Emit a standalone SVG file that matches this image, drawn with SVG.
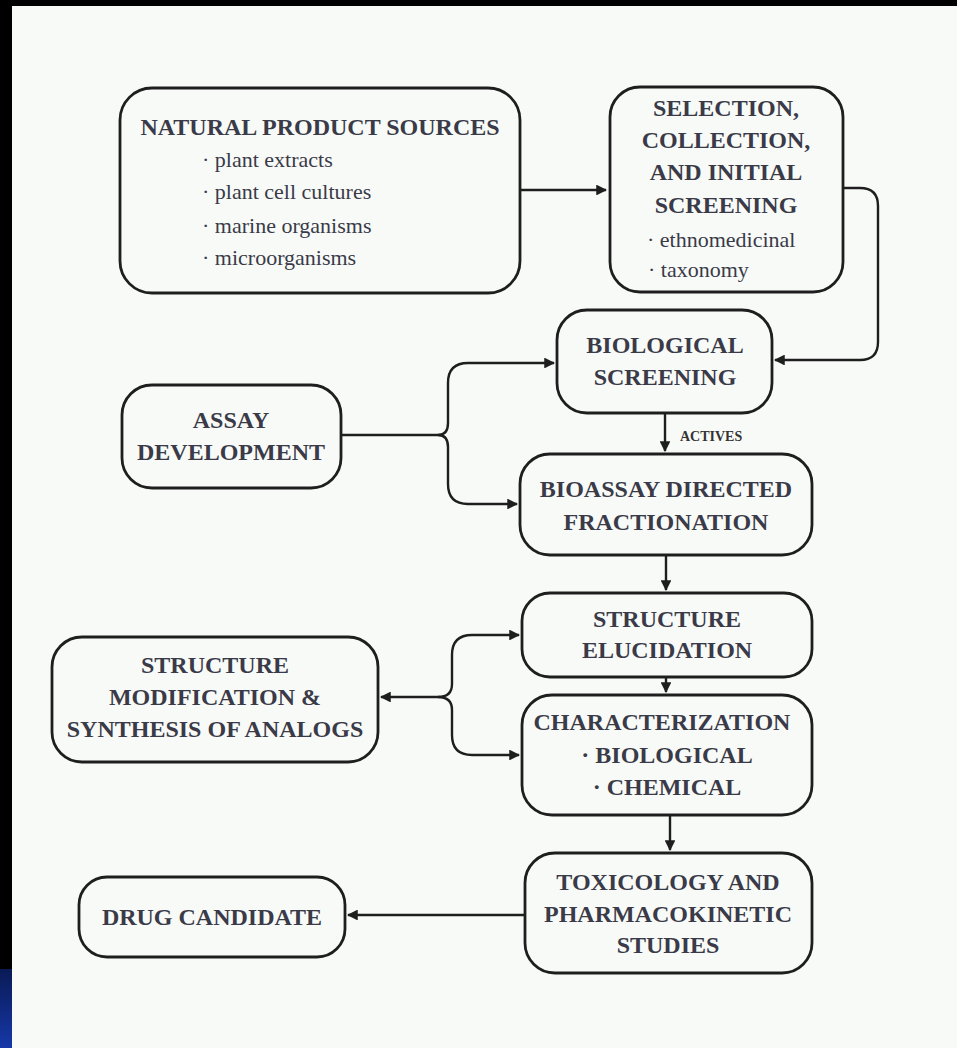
<svg xmlns="http://www.w3.org/2000/svg" width="957" height="1048" viewBox="0 0 957 1048">
<defs>
<linearGradient id="blue" x1="0" y1="0" x2="0" y2="1">
<stop offset="0" stop-color="#0a1a55"/>
<stop offset="1" stop-color="#1638a8"/>
</linearGradient>
<marker id="ah" viewBox="0 0 10 10" refX="9" refY="5" markerWidth="4.5" markerHeight="4.5" orient="auto" markerUnits="strokeWidth">
<path d="M0,0 L10,5 L0,10 z" fill="#1e1e1e"/>
</marker>
<style>
.box{fill:none;stroke:#1e1e1e;stroke-width:2.8}
.t{font-family:"Liberation Serif","Times New Roman",serif;font-weight:bold;font-size:24px;fill:#3a3a48;text-anchor:middle}
.s{font-family:"Liberation Serif","Times New Roman",serif;font-size:22px;fill:#3a3a48}
.c{fill:none;stroke:#1e1e1e;stroke-width:2.4}
.lbl{font-family:"Liberation Serif","Times New Roman",serif;font-weight:bold;font-size:14px;fill:#333}
</style>
</defs>
<rect x="0" y="0" width="957" height="1048" fill="#000"/>
<rect x="12" y="6" width="945" height="1042" fill="#f8faf8"/>
<rect x="0" y="969" width="12" height="79" fill="url(#blue)"/>

<g id="connectors">
<path class="c" d="M520,190 H606" marker-end="url(#ah)"/>
<path class="c" d="M843,188 H860 Q878,188 878,206 V342 Q878,360 860,360 H775" marker-end="url(#ah)"/>
<path class="c" d="M665,413 V451" marker-end="url(#ah)"/>
<path class="c" d="M341,435 H438 Q448,435 448,423 V383 Q448,363 468,363 H554" marker-end="url(#ah)"/>
<path class="c" d="M438,435 Q448,435 448,447 V484 Q448,504 468,504 H517" marker-end="url(#ah)"/>
<path class="c" d="M666,555 V590" marker-end="url(#ah)"/>
<path class="c" d="M666,677 V692" marker-end="url(#ah)"/>
<path class="c" d="M438,697 H381" marker-end="url(#ah)"/>
<path class="c" d="M438,697 Q452,697 452,684 V655 Q452,635 472,635 H519" marker-end="url(#ah)"/>
<path class="c" d="M438,697 Q452,697 452,710 V735 Q452,755 472,755 H519" marker-end="url(#ah)"/>
<path class="c" d="M670,815 V850" marker-end="url(#ah)"/>
<path class="c" d="M525,915 H348" marker-end="url(#ah)"/>
<text class="lbl" x="680" y="441">ACTIVES</text>
</g>

<g id="natural-product-sources">
<rect class="box" x="120" y="88" width="400" height="205" rx="32"/>
<text class="t" x="320" y="135">NATURAL PRODUCT SOURCES</text>
<text class="s" x="202" y="167">· plant extracts</text>
<text class="s" x="202" y="199">· plant cell cultures</text>
<text class="s" x="202" y="233">· marine organisms</text>
<text class="s" x="202" y="265">· microorganisms</text>
</g>

<g id="selection">
<rect class="box" x="610" y="87" width="233" height="205" rx="30"/>
<text class="t" x="726" y="116">SELECTION,</text>
<text class="t" x="726" y="148">COLLECTION,</text>
<text class="t" x="726" y="180">AND INITIAL</text>
<text class="t" x="726" y="213">SCREENING</text>
<text class="s" x="647" y="247">· ethnomedicinal</text>
<text class="s" x="648" y="277">·  taxonomy</text>
</g>

<g id="biological-screening">
<rect class="box" x="557" y="310" width="215" height="103" rx="30"/>
<text class="t" x="665" y="353">BIOLOGICAL</text>
<text class="t" x="665" y="385">SCREENING</text>
</g>

<g id="assay-development">
<rect class="box" x="122" y="385" width="219" height="103" rx="30"/>
<text class="t" x="231" y="428">ASSAY</text>
<text class="t" x="231" y="460">DEVELOPMENT</text>
</g>

<g id="bioassay">
<rect class="box" x="520" y="454" width="292" height="101" rx="30"/>
<text class="t" x="666" y="497">BIOASSAY DIRECTED</text>
<text class="t" x="666" y="530">FRACTIONATION</text>
</g>

<g id="structure-elucidation">
<rect class="box" x="522" y="593" width="290" height="84" rx="28"/>
<text class="t" x="667" y="627">STRUCTURE</text>
<text class="t" x="667" y="658">ELUCIDATION</text>
</g>

<g id="structure-modification">
<rect class="box" x="52" y="637" width="326" height="125" rx="30"/>
<text class="t" x="215" y="673">STRUCTURE</text>
<text class="t" x="215" y="705">MODIFICATION &amp;</text>
<text class="t" x="215" y="737">SYNTHESIS OF ANALOGS</text>
</g>

<g id="characterization">
<rect class="box" x="522" y="695" width="290" height="120" rx="30"/>
<text class="t" x="662" y="730">CHARACTERIZATION</text>
<text class="t" x="667" y="763">· BIOLOGICAL</text>
<text class="t" x="667" y="795">· CHEMICAL</text>
</g>

<g id="toxicology">
<rect class="box" x="525" y="853" width="287" height="120" rx="30"/>
<text class="t" x="668" y="890">TOXICOLOGY AND</text>
<text class="t" x="668" y="922">PHARMACOKINETIC</text>
<text class="t" x="668" y="953">STUDIES</text>
</g>

<g id="drug-candidate">
<rect class="box" x="79" y="877" width="266" height="80" rx="28"/>
<text class="t" x="212" y="925">DRUG CANDIDATE</text>
</g>
</svg>
